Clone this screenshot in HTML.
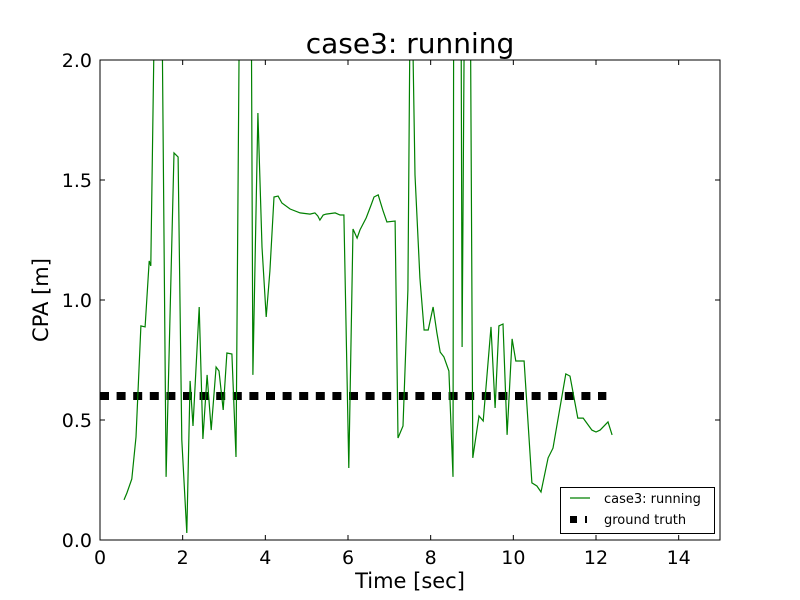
<!DOCTYPE html>
<html><head><meta charset="utf-8"><style>
body{margin:0;background:#fff;}
svg{display:block;font-family:"DejaVu Sans","Liberation Sans",sans-serif;}
</style></head><body>
<svg id="chart" width="800" height="600">
<rect x="0" y="0" width="800" height="600" fill="#fff"/>
<defs><clipPath id="plotclip"><rect x="100" y="60" width="620" height="480"/></clipPath></defs>
<text x="410" y="53" text-anchor="middle" font-size="28">case3: running</text>
<g id="series" clip-path="url(#plotclip)"></g>
<g id="axes"></g>
<text x="410" y="588" text-anchor="middle" font-size="21">Time [sec]</text>
<text transform="translate(48,300) rotate(-90)" text-anchor="middle" font-size="21">CPA [m]</text>
<g>
<rect x="560.5" y="487.5" width="154" height="46" fill="#fff" stroke="#000" stroke-width="1"/>
<line x1="570" y1="498" x2="590" y2="498" stroke="#008000" stroke-width="1.2"/>
<text x="604" y="503" font-size="13">case3: running</text>
<rect x="570" y="516" width="7" height="7" fill="#000"/>
<rect x="585" y="516" width="2" height="7" fill="#000"/>
<text x="604" y="524" font-size="13">ground truth</text>
</g>
</svg>
<script>
const times=[0.58,0.65,0.77,0.87,0.99,1.09,1.19,1.23,1.35,1.48,1.60,1.79,1.89,1.98,2.10,2.18,2.25,2.40,2.49,2.59,2.69,2.81,2.88,2.98,3.07,3.19,3.29,3.39,3.65,3.70,3.82,3.92,4.02,4.11,4.21,4.31,4.40,4.60,4.84,5.08,5.20,5.27,5.32,5.40,5.47,5.69,5.81,5.90,6.02,6.12,6.22,6.29,6.44,6.56,6.63,6.73,6.85,6.94,7.14,7.21,7.33,7.45,7.52,7.62,7.74,7.84,7.94,8.06,8.15,8.23,8.32,8.44,8.54,8.56,8.73,8.76,8.83,8.95,9.02,9.17,9.27,9.46,9.56,9.65,9.75,9.85,9.97,10.06,10.26,10.45,10.57,10.67,10.84,10.96,11.27,11.37,11.56,11.69,11.90,12.00,12.10,12.29,12.39];
const cpa=[0.167,0.196,0.254,0.429,0.892,0.888,1.163,1.142,2.6,2.6,0.263,1.613,1.596,0.417,0.029,0.663,0.475,0.971,0.421,0.688,0.458,0.721,0.704,0.542,0.779,0.775,0.346,2.6,2.6,0.688,1.779,1.221,0.929,1.121,1.429,1.433,1.404,1.379,1.363,1.358,1.363,1.350,1.333,1.354,1.358,1.363,1.354,1.354,0.300,1.296,1.258,1.292,1.342,1.396,1.429,1.438,1.371,1.325,1.329,0.425,0.475,1.042,2.6,1.521,1.092,0.875,0.875,0.971,0.863,0.783,0.763,0.704,0.263,2.6,2.6,0.804,2.6,2.6,0.342,0.517,0.496,0.888,0.550,0.892,0.900,0.438,0.838,0.746,0.746,0.238,0.225,0.200,0.342,0.383,0.692,0.683,0.508,0.508,0.458,0.450,0.458,0.492,0.438];
const truthTimes=[0,12.25];
const truthValues=[0.6,0.6];
const xTicks=[0,2,4,6,8,10,12,14];
const yTicks=[0.0,0.5,1.0,1.5,2.0];
const yTickLabels=["0.0","0.5","1.0","1.5","2.0"];

const X0=100,X1=720,Y0=540,Y1=60,XMAX=15,YMAX=2;
const sx=v=>X0+v/XMAX*(X1-X0);
const sy=v=>Y0-v/YMAX*(Y0-Y1);
const NS="http://www.w3.org/2000/svg";
const series=document.getElementById('series');
const axes=document.getElementById('axes');

const gt=document.createElementNS(NS,'polyline');
gt.setAttribute('points',truthTimes.map((t,i)=>sx(t)+','+sy(truthValues[i])).join(' '));
gt.setAttribute('fill','none');gt.setAttribute('stroke','#000');gt.setAttribute('stroke-width','8');
gt.setAttribute('stroke-dasharray','9 7.6');


series.appendChild(gt);

const ln=document.createElementNS(NS,'polyline');
ln.setAttribute('points',times.map((t,i)=>sx(t).toFixed(1)+','+sy(cpa[i]).toFixed(1)).join(' '));
ln.setAttribute('fill','none');ln.setAttribute('stroke','#008000');ln.setAttribute('stroke-width','1.2');


series.appendChild(ln);

const frame=document.createElementNS(NS,'rect');
frame.setAttribute('x',X0);frame.setAttribute('y',Y1);frame.setAttribute('width',X1-X0);frame.setAttribute('height',Y0-Y1);
frame.setAttribute('fill','none');frame.setAttribute('stroke','#000');frame.setAttribute('stroke-width','1');


axes.appendChild(frame);

xTicks.forEach(v=>{
  const x=sx(v);
  [[Y0,Y0-5],[Y1,Y1+5]].forEach(p=>{
    const l=document.createElementNS(NS,'line');
    l.setAttribute('x1',x);l.setAttribute('x2',x);l.setAttribute('y1',p[0]);l.setAttribute('y2',p[1]);
    l.setAttribute('stroke','#000');
    
    
    axes.appendChild(l);
  });
  const t=document.createElementNS(NS,'text');
  t.setAttribute('x',x);t.setAttribute('y',Y0+24);t.setAttribute('text-anchor','middle');t.setAttribute('font-size','19');
  t.textContent=v;
  
  
  axes.appendChild(t);
});
yTicks.forEach((v,i)=>{
  const y=sy(v);
  [[X0,X0+5],[X1,X1-5]].forEach(p=>{
    const l=document.createElementNS(NS,'line');
    l.setAttribute('y1',y);l.setAttribute('y2',y);l.setAttribute('x1',p[0]);l.setAttribute('x2',p[1]);
    l.setAttribute('stroke','#000');
    
    
    axes.appendChild(l);
  });
  const t=document.createElementNS(NS,'text');
  t.setAttribute('x',X0-8);t.setAttribute('y',y+7);t.setAttribute('text-anchor','end');t.setAttribute('font-size','19');
  t.textContent=yTickLabels[i];
  
  
  axes.appendChild(t);
});
</script>
</body></html>
